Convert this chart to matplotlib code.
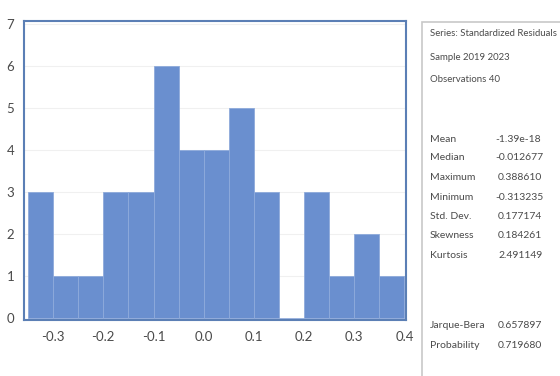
import matplotlib
matplotlib.use("Agg")
import matplotlib.pyplot as plt
from matplotlib.patches import Rectangle
import numpy as np

bin_edges = [-0.35, -0.30, -0.25, -0.20, -0.15, -0.10, -0.05, 0.00, 0.05, 0.10, 0.15, 0.20, 0.25, 0.30, 0.35, 0.40]
counts = [3, 1, 1, 3, 3, 6, 4, 4, 5, 3, 0, 3, 1, 2, 1]
x_ticks = [-0.3, -0.2, -0.1, 0.0, 0.1, 0.2, 0.3, 0.4]
x_tick_labels = ["-0.3", "-0.2", "-0.1", "0.0", "0.1", "0.2", "0.3", "0.4"]
y_ticks = [0, 1, 2, 3, 4, 5, 6, 7]

header_lines = ["Series: Standardized Residuals", "Sample 2019 2023", "Observations 40"]
stat_names = ["Mean", "Median", "Maximum", "Minimum", "Std. Dev.", "Skewness", "Kurtosis"]
stat_values = ["-1.39e-18", "-0.012677", "0.388610", "-0.313235", "0.177174", "0.184261", "2.491149"]
test_names = ["Jarque-Bera", "Probability"]
test_values = ["0.657897", "0.719680"]

fam = ["Lato", "DejaVu Sans"]
plt.rcParams['font.family'] = fam
txt_color = "#4a4a4a"

W, H = 560, 376
fig = plt.figure(figsize=(W/100, H/100), dpi=100)

# axes in pixel coords
ax_l, ax_r, ax_t, ax_b = 24, 406, 21, 320
ax = fig.add_axes([ax_l/W, 1-ax_b/H, (ax_r-ax_l)/W, (ax_b-ax_t)/H])
widths = np.diff(bin_edges)
ax.bar(bin_edges[:-1], counts, width=widths, align='edge', color="#6a8fcf",
       edgecolor="#8eaadb", linewidth=0.6, zorder=2)
ax.set_xlim(-0.358, 0.403)
ax.set_ylim(-0.04, 7.06)
ax.set_xticks(x_ticks)
ax.set_xticklabels(x_tick_labels)
ax.set_yticks(y_ticks)
for y in y_ticks[1:]:
    ax.axhline(y, color="#f0f0f0", linewidth=0.8, zorder=1)
ax.tick_params(length=0, labelsize=9.5, colors=txt_color, pad=8)
ax.tick_params(axis='y', pad=7)
for s in ax.spines.values():
    s.set_color("#5b7fb5")
    s.set_linewidth(1.5)

# stats box
box = Rectangle((422/W, -0.05), 0.3, 1-22/H+0.05, transform=fig.transFigure,
                facecolor="white", edgecolor="#c8c8c8", linewidth=1.2)
fig.patches.append(box)

def put(x, y, s, size=7.5):
    fig.text(x/W, 1-y/H, s, fontsize=size, color=txt_color, va='center', ha='left')

hy = [34, 57, 79]
for y, s in zip(hy, header_lines):
    put(430, y, s, 6.9)
for y, s in zip(hy[1:], header_lines[1:]):
    pass
sy = [139, 158, 178, 197, 216, 236, 256]
for y, n, v in zip(sy, stat_names, stat_values):
    put(430, y, n)
    put(498 if not v.startswith("-") else 495, y, v)
ty = [325, 346]
for y, n, v in zip(ty, test_names, test_values):
    put(430, y, n)
    put(498, y, v)

fig.savefig("out.png", dpi=100)
